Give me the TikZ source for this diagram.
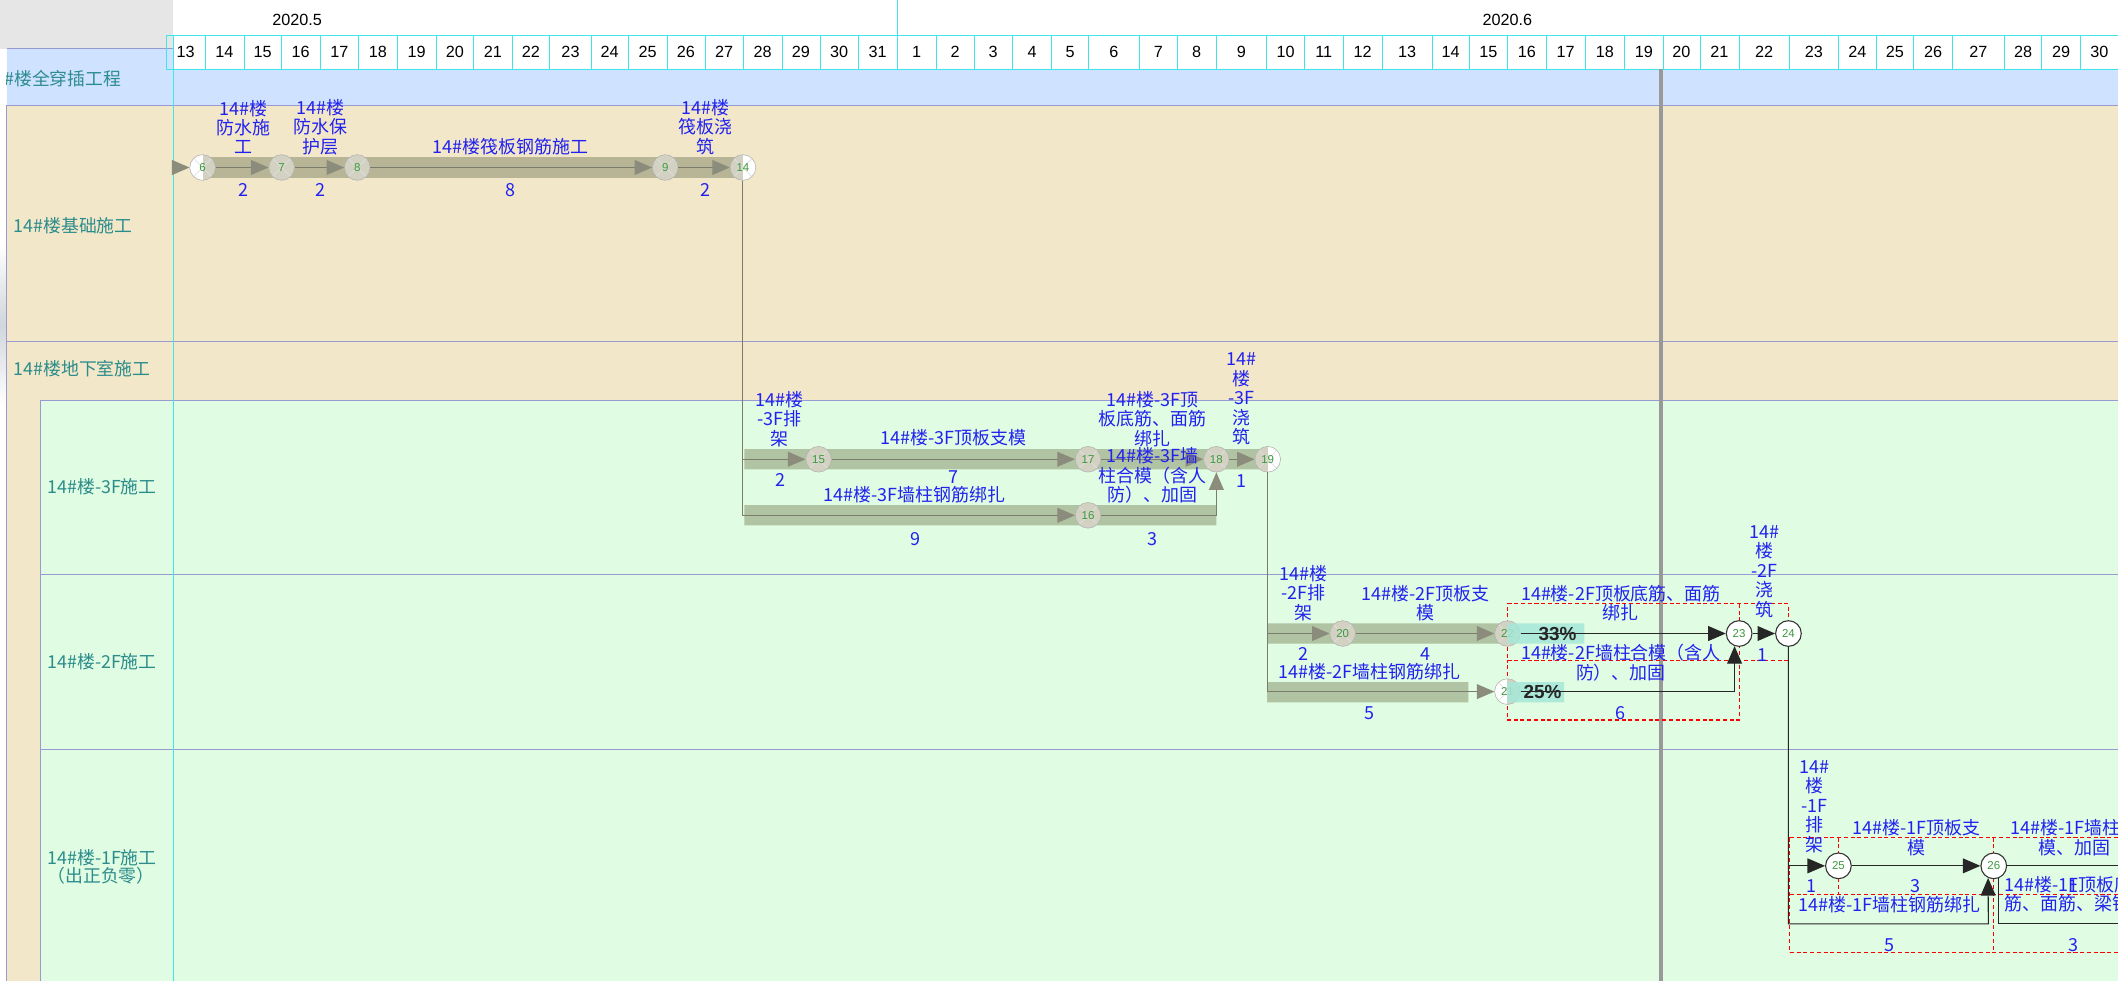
\documentclass[tikz,border=0pt]{standalone}
\usepackage{fontspec}
\setmainfont{Noto Sans CJK SC}
\newfontfamily\hdrfont{Liberation Sans}
\usetikzlibrary{arrows.meta}
\definecolor{cyl}{HTML}{3EE6EA}
\definecolor{hdgrey}{HTML}{E6E6E6}
\definecolor{blueband}{HTML}{CFE2FF}
\definecolor{tanbg}{HTML}{F2E7C9}
\definecolor{grnbg}{HTML}{E0FCE2}
\definecolor{lav}{HTML}{9A9AD2}
\definecolor{rowteal}{HTML}{2B8C8C}
\definecolor{txtblue}{HTML}{2222F0}
\definecolor{bandt}{HTML}{B8B596}
\definecolor{bandg}{HTML}{B0C3A2}
\definecolor{evfill}{HTML}{D2D1C2}
\definecolor{dnline}{HTML}{7C7C6C}
\definecolor{dntip}{HTML}{8C8C7C}
\definecolor{prog}{HTML}{A6E8D8}
\definecolor{numgrn}{HTML}{3C9A3C}
\definecolor{todayc}{HTML}{999999}
\definecolor{edge}{HTML}{D0D6DC}
\newcommand\lblsize{\fontsize{13.3}{14.4}\selectfont}
\newcommand\evx{\draw[white!75!gray,line width=.5pt] (path picture bounding box.north west)--(path picture bounding box.south east) (path picture bounding box.north east)--(path picture bounding box.south west);}

\begin{document}
\begin{tikzpicture}[x=1pt,y=-1pt,
 ev/.style={circle,minimum size=19pt,inner sep=0pt,font=\hdrfont\fontsize{8.5}{8.5}\selectfont,text=numgrn},
 evd/.style={ev,draw=gray!60,fill=evfill,path picture={\evx}},
 evl/.style={ev,draw=gray!60,fill=evfill,path picture={\fill[white] (path picture bounding box.south west) rectangle (path picture bounding box.north);\evx}},
 evr/.style={ev,draw=gray!60,fill=evfill,path picture={\fill[white] (path picture bounding box.south east) rectangle (path picture bounding box.north);\evx}},
 evt/.style={ev,draw=black!80,fill=white,line width=.8pt},
 dn/.style={draw=dnline,line width=.8pt,-{Triangle[length=13pt,width=11pt,color=dntip]}},
 td/.style={draw=black!85,line width=.8pt,-{Triangle[length=13pt,width=11pt]}},
 tdl/.style={draw=black!85,line width=.8pt},
 lbl/.style={text=txtblue,font=\lblsize,align=center,inner sep=0pt},
 row/.style={text=rowteal,font=\fontsize{13.2}{13.5}\selectfont,align=left,inner sep=0pt,anchor=west},
 hd/.style={font=\hdrfont\fontsize{12}{12}\selectfont,inner sep=0pt},
 pct/.style={font=\hdrfont\bfseries\fontsize{14}{14}\selectfont,text=black!85,inner sep=0pt},
 rd/.style={draw=red,line width=.8pt,dash pattern=on 3pt off 2pt}]
 \useasboundingbox (0,0) rectangle (1568,726);
 \clip (0,0) rectangle (1568,726);
 \fill[white] (0,0) rectangle (1568,726);
 \fill[hdgrey] (0,0) rectangle (128,36);
 \fill[blueband] (5,36) rectangle (128,78) (128,51) rectangle (1568,78);
 \fill[tanbg] (5,78) rectangle (1568,726);
 \fill[grnbg] (30,296) rectangle (1568,726);
 \fill[top color=white,bottom color=white,middle color=edge] (0,180) rectangle (5,300);
 \draw[lav] (5,36) -- (128,36);
 \draw[lav] (5,726) -- (5,78) -- (1568,78) (5,253) -- (1568,253);
 \draw[lav] (30,726) -- (30,296) -- (1568,296) (30,425) -- (1568,425) (30,555) -- (1568,555);
 \draw[cyl] (128,726) -- (128,26) -- (1568,26) (128,51) -- (1568,51) (664,0) -- (664,26);
 \foreach \a/\b/\d in {123.2/151.7/13,151.7/180.6/14,180.6/208.3/15,208.3/237/16,237/265.6/17,265.6/294/18,294/323/19,323/350.6/20,350.6/379/21,379/407/22,407/437.7/23,437.7/465/24,465/493.8/25,493.8/521.9/26,521.9/550.4/27,550.4/578.8/28,578.8/606.9/29,606.9/635.4/30,635.4/664/31}{
  \draw[cyl] (\a,26) rectangle (\b,51);
  \node[hd] (m\d) at ({(\a+\b)/2},38.5) {\d};}
 \foreach \a/\b/\d in {664/693.3/1,693.3/720.9/2,720.9/749.7/3,749.7/778.4/4,778.4/806/5,806/843.4/6,843.4/871.6/7,871.6/900.3/8,900.3/937.7/9,937.7/965.9/10,965.9/994.1/11,994.1/1023.4/12,1023.4/1060.2/13,1060.2/1087.8/14,1087.8/1116/15,1116/1144.7/16,1144.7/1173.5/17,1173.5/1202.8/18,1202.8/1231/19,1231/1258.6/20,1258.6/1287.3/21,1287.3/1324.7/22,1324.7/1361/23,1361/1389/24,1389/1416.7/25,1416.7/1445.4/26,1445.4/1483.9/27,1483.9/1511.5/28,1511.5/1540.3/29,1540.3/1568/30}{
  \draw[cyl] (\a,26) rectangle (\b,51);
  \node[hd] (j\d) at ({(\a+\b)/2},38.5) {\d};}
 \node[hd] (may) at (220,14.5) {2020.5};
 \node[hd] (jun) at (1116,14.5) {2020.6};
 \draw[todayc,line width=3pt] (1230,51) -- (1230,726);
 \begin{scope}
  \clip (5,36) rectangle (128,78);
  \node[row,anchor=east] (r0) at (90,58) {14\#楼全穿插工程};
 \end{scope}
 \node[row] (r1) at (10,167) {14\#楼基础施工};
 \node[row] (r2) at (10,273) {14\#楼地下室施工};
 \node[row] (r3) at (35,360) {14\#楼-3F施工};
 \node[row] (r4) at (35,490) {14\#楼-2F施工};
 \node[row] (r5) at (35,641.5) {14\#楼-1F施工\\（出正负零）};
 \fill[bandt] (150,116.5) rectangle (550,131.5);
 \fill[bandg] (551,332.5) rectangle (938,347.5) (551,374) rectangle (900.5,389);
 \fill[bandg] (938,461.5) rectangle (1116,476.5) (938,505) rectangle (1087,520);
 \draw[rd] (1116,447) -- (1324,447) -- (1324,489) -- (1116,489) -- cycle;
 \draw[rd] (1287.5,447) -- (1287.5,533) -- (1116,533) -- (1116,489);
 \draw[rd] (1325,620) -- (1580,620) (1325,662.5) -- (1580,662.5) (1325,705) -- (1580,705);
 \draw[rd] (1325,620) -- (1325,705) (1476,620) -- (1476,705) (1361,620) -- (1361,662.5);
 \node[evl] (n6) at (150,124) {6};
 \node[evd] (n7) at (208.5,124) {7};
 \node[evd] (n8) at (264.5,124) {8};
 \node[evd] (n9) at (492.5,124) {9};
 \node[evr] (n14) at (550,124) {14};
 \node[evd] (n15) at (606,340) {15};
 \node[evd] (n17) at (805.5,340) {17};
 \node[evd] (n18) at (900.5,340) {18};
 \node[evr] (n19) at (938.5,340) {19};
 \node[evd] (n16) at (805.5,381.5) {16};
 \node[evd] (n20) at (994,469) {20};
 \node[evd] (n22) at (1116,469) {22};
 \node[evl] (n21) at (1116,512) {21};
 \node[evt] (n23) at (1287.5,469) {23};
 \node[evt] (n24) at (1324,469) {24};
 \node[evt] (n25) at (1361,641) {25};
 \node[evt] (n26) at (1476,641) {26};
 \fill[prog,opacity=.85] (1116,461.5) rectangle (1173,476.5) (1116,505) rectangle (1158,520);
 \node[pct] (p22) at (1153,469) {33\%};
 \node[pct] (p21) at (1142,512) {25\%};
 \coordinate (s0) at (128,124);
 \coordinate (b26) at (1472,684);
 \coordinate (e1) at (1580,641);
 \coordinate (e2) at (1580,684);
 \draw[dn] (s0) -- (n6);
 \draw[dn] (n6) -- (n7);
 \draw[dn] (n7) -- (n8);
 \draw[dn] (n8) -- (n9);
 \draw[dn] (n9) -- (n14);
 \draw[dn] (n14.south) |- (n15);
 \draw[dn] (n14.south) |- (n16);
 \draw[dn] (n15) -- (n17);
 \draw[dn] (n17) -- (n18);
 \draw[dn] (n16) -| (n18);
 \draw[dn] (n18) -- (n19);
 \draw[dn] (n19.south) |- (n20);
 \draw[dn] (n19.south) |- (n21);
 \draw[dn] (n20) -- (n22);
 \draw[td] (n22) -- (n23);
 \draw[td] (n21) -| (n23.250);
 \draw[td] (n23) -- (n24);
 \draw[td] (n24.south) |- (n25);
 \draw[td] (n24.south) |- (b26) -- (n26.245);
 \draw[td] (n25) -- (n26);
 \draw[tdl] (n26) -- (e1);
 \draw[tdl] (n26.290) |- (e2);
 \node[lbl] (a1) at (180,94) {14\#楼\\防水施\\工};
 \node[lbl] (a2) at (237,94) {14\#楼\\防水保\\护层};
 \node[lbl] (a3) at (378,108.6) {14\#楼筏板钢筋施工};
 \node[lbl] (a4) at (522,94) {14\#楼\\筏板浇\\筑};
 \node[lbl] (a5) at (180,140.7) {2};
 \node[lbl] (a6) at (237,140.7) {2};
 \node[lbl] (a7) at (378,140.7) {8};
 \node[lbl] (a8) at (522,140.7) {2};
 \node[lbl] (b1) at (577,310) {14\#楼\\-3F排\\架};
 \node[lbl] (b2) at (706,324) {14\#楼-3F顶板支模};
 \node[lbl] (b3) at (853,310) {14\#楼-3F顶\\板底筋、面筋\\绑扎};
 \node[lbl] (b4) at (853,352) {14\#楼-3F墙\\柱合模（含人\\防）、加固};
 \node[lbl] (b5) at (919,295.3) {14\#\\楼\\-3F\\浇\\筑};
 \node[lbl] (b6) at (677,366) {14\#楼-3F墙柱钢筋绑扎};
 \node[lbl] (b7) at (578,355) {2};
 \node[lbl] (b8) at (706,353) {7};
 \node[lbl] (b9) at (919,356) {1};
 \node[lbl] (b10) at (678,399) {9};
 \node[lbl] (b11) at (853,399) {3};
 \node[lbl] (c1) at (965,439) {14\#楼\\-2F排\\架};
 \node[lbl] (c2) at (1055,446.5) {14\#楼-2F顶板支\\模};
 \node[lbl] (c3) at (1200,446.5) {14\#楼-2F顶板底筋、面筋\\绑扎};
 \node[lbl] (c4) at (1306,423) {14\#\\楼\\-2F\\浇\\筑};
 \node[lbl] (c5) at (1014,497) {14\#楼-2F墙柱钢筋绑扎};
 \node[lbl] (c6) at (1200,490.5) {14\#楼-2F墙柱合模（含人\\防）、加固};
 \node[lbl] (c7) at (965,484) {2};
 \node[lbl] (c8) at (1055,484) {4};
 \node[lbl] (c9) at (1305,485) {1};
 \node[lbl] (c10) at (1014,528) {5};
 \node[lbl] (c11) at (1200,528) {6};
 \node[lbl] (d1) at (1343,597) {14\#\\楼\\-1F\\排\\架};
 \node[lbl] (d2) at (1419,620) {14\#楼-1F顶板支\\模};
 \node[lbl] (d3) at (1536,620) {14\#楼-1F墙柱合\\模、加固};
 \node[lbl] (d4) at (1399,670) {14\#楼-1F墙柱钢筋绑扎};
 \node[lbl,align=left,anchor=west] (d5) at (1484,662) {14\#楼-1F顶板底\\筋、面筋、梁钢筋};
 \node[lbl] (d6) at (1341,656) {1};
 \node[lbl] (d7) at (1418,656) {3};
 \node[lbl] (d8) at (1535,656) {1};
 \node[lbl] (d9) at (1399,700) {5};
 \node[lbl] (d10) at (1535,700) {3};
\end{tikzpicture}
\end{document}
